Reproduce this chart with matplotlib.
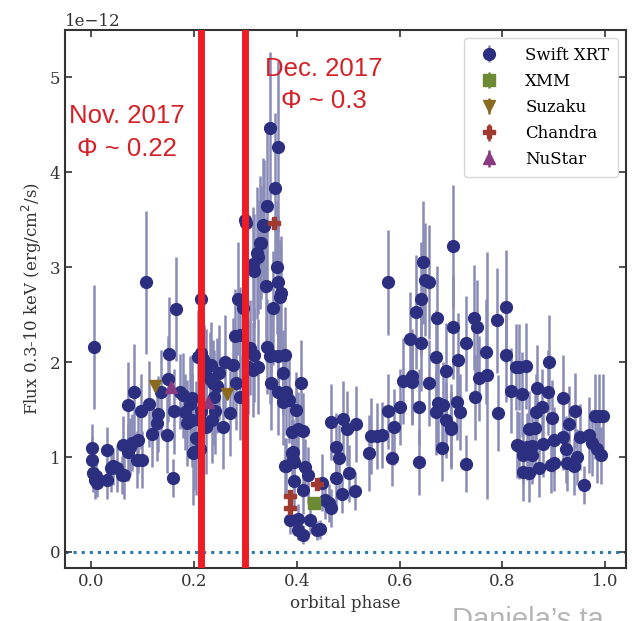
import matplotlib
matplotlib.use("Agg")
import matplotlib.pyplot as plt
import numpy as np

# Swift XRT light curve, flux in units of 1e-12 erg/cm2/s
swift_phase = [
    0.002, 0.002, 0.004, 0.006, 0.008, 0.010, 0.012, 0.031, 0.031, 0.040,
    0.043, 0.050, 0.060, 0.062, 0.064, 0.072, 0.072, 0.076, 0.080, 0.083,
    0.089, 0.092, 0.097, 0.100, 0.108, 0.114, 0.118, 0.128, 0.130, 0.137,
    0.148, 0.150, 0.152, 0.159, 0.161, 0.166, 0.173, 0.180, 0.183, 0.186,
    0.192, 0.196, 0.197, 0.198, 0.200, 0.204, 0.214, 0.208, 0.212, 0.212,
    0.215, 0.215, 0.218, 0.220, 0.223, 0.223, 0.231, 0.233, 0.235, 0.237,
    0.240, 0.241, 0.245, 0.250, 0.256, 0.260, 0.270, 0.276, 0.280, 0.283,
    0.286, 0.289, 0.290, 0.295, 0.299, 0.301, 0.305, 0.310, 0.315, 0.315,
    0.318, 0.318, 0.322, 0.324, 0.324, 0.328, 0.330, 0.334, 0.336, 0.340,
    0.342, 0.342, 0.348, 0.349, 0.351, 0.351, 0.354, 0.357, 0.361, 0.363,
    0.363, 0.363, 0.363, 0.367, 0.370, 0.373, 0.373, 0.377, 0.377, 0.380,
    0.385, 0.390, 0.390, 0.394, 0.398, 0.402, 0.408, 0.412, 0.388, 0.402,
    0.402, 0.412, 0.412, 0.416, 0.423, 0.425, 0.439, 0.445, 0.450, 0.455,
    0.462, 0.466, 0.466, 0.476, 0.476, 0.482, 0.489, 0.491, 0.497, 0.501,
    0.513, 0.516, 0.540, 0.544, 0.557, 0.565, 0.577, 0.577, 0.586, 0.590,
    0.600, 0.606, 0.620, 0.625, 0.625, 0.631, 0.637, 0.637, 0.641, 0.641,
    0.645, 0.649, 0.658, 0.658, 0.670, 0.670, 0.672, 0.674, 0.682, 0.684,
    0.690, 0.691, 0.700, 0.700, 0.703, 0.703, 0.711, 0.713, 0.717, 0.730,
    0.730, 0.744, 0.746, 0.750, 0.755, 0.767, 0.769, 0.790, 0.792, 0.806,
    0.806, 0.816, 0.827, 0.829, 0.833, 0.833, 0.838, 0.839, 0.839, 0.846,
    0.847, 0.852, 0.852, 0.858, 0.858, 0.864, 0.866, 0.868, 0.870, 0.877,
    0.878, 0.889, 0.891, 0.895, 0.897, 0.900, 0.901, 0.917, 0.917, 0.924,
    0.926, 0.930, 0.938, 0.940, 0.944, 0.950, 0.959, 0.969, 0.973, 0.979,
    0.984, 0.988, 0.992, 0.995, 0.380, 0.393, 0.393, 0.395,
]
swift_flux = [
    1.10, 0.97, 0.83, 2.16, 0.76, 0.80, 0.73, 1.07, 0.76, 0.88,
    0.90, 0.88, 0.81, 1.13, 0.81, 1.55, 1.05, 1.11, 1.15, 1.69,
    0.97, 1.18, 1.48, 0.97, 2.84, 1.56, 1.24, 1.36, 1.45, 1.68,
    1.23, 1.82, 2.09, 0.78, 1.48, 2.56, 1.69, 1.65, 1.47, 1.36,
    1.56, 1.62, 1.39, 1.04, 1.05, 1.20, 2.67, 2.05, 1.39, 1.08,
    2.10, 1.48, 2.03, 1.89, 1.85, 1.32, 1.82, 1.97, 1.39, 1.78,
    1.63, 1.48, 1.75, 1.89, 1.32, 2.00, 1.46, 1.97, 2.27, 1.78,
    2.67, 1.63, 2.29, 2.57, 3.50, 3.47, 1.95, 2.15, 1.92, 3.03,
    2.96, 2.08, 3.15, 1.95, 3.11, 3.26, 3.26, 3.45, 3.43, 2.80,
    3.64, 2.16, 2.06, 4.47, 1.78, 2.08, 2.57, 3.83, 3.00, 4.27,
    2.84, 2.06, 1.68, 2.69, 2.73, 1.58, 1.89, 2.08, 0.90, 1.68,
    1.60, 1.26, 1.04, 0.95, 1.50, 1.29, 1.78, 1.27, 0.34, 0.35,
    0.23, 0.18, 0.65, 0.89, 0.81, 0.34, 0.23, 0.24, 0.73, 0.55,
    0.52, 0.46, 1.37, 1.11, 0.78, 0.99, 0.61, 1.40, 1.30, 0.83,
    0.64, 1.35, 1.04, 1.22, 1.22, 1.23, 2.84, 1.48, 0.99, 1.32,
    1.53, 1.80, 2.24, 1.85, 1.79, 2.53, 1.53, 0.95, 2.67, 2.20,
    3.05, 2.87, 2.84, 1.78, 2.05, 1.47, 2.46, 1.57, 1.10, 1.55,
    1.39, 1.91, 1.32, 1.29, 3.22, 2.37, 1.58, 2.02, 1.47, 2.20,
    0.93, 2.47, 1.63, 2.37, 1.83, 2.11, 1.86, 2.44, 1.46, 2.58,
    2.08, 1.70, 1.95, 1.13, 1.95, 1.12, 1.66, 1.02, 0.84, 1.96,
    1.11, 1.30, 0.83, 1.12, 1.02, 1.31, 1.47, 1.73, 0.88, 1.53,
    1.14, 1.68, 2.00, 0.92, 1.41, 0.94, 1.18, 1.62, 1.21, 1.08,
    0.94, 1.35, 0.90, 1.49, 1.00, 1.21, 0.70, 1.23, 1.15, 1.43,
    1.08, 1.43, 1.02, 1.43, 0.90, 1.05, 0.97, 0.75,
]
swift_err = [
    0.25, 0.25, 0.20, 0.65, 0.20, 0.20, 0.15, 0.25, 0.20, 0.25,
    0.20, 0.25, 0.20, 0.30, 0.25, 0.45, 0.30, 0.30, 0.30, 0.50,
    0.30, 0.35, 0.40, 0.30, 0.75, 0.45, 0.35, 0.40, 0.40, 0.45,
    0.40, 0.45, 0.60, 0.20, 0.45, 0.55, 0.40, 0.45, 0.40, 0.45,
    0.50, 0.45, 0.50, 0.55, 0.40, 0.60, 0.70, 0.50, 0.50, 0.50,
    0.50, 0.50, 0.45, 0.50, 0.50, 0.50, 0.50, 0.45, 0.45, 0.45,
    0.50, 0.45, 0.50, 0.50, 0.45, 0.50, 0.45, 0.50, 0.50, 0.50,
    0.60, 0.45, 0.50, 0.55, 0.70, 0.70, 0.50, 0.50, 0.50, 0.60,
    0.60, 0.50, 0.70, 0.50, 0.60, 0.70, 0.60, 0.70, 0.70, 0.60,
    0.80, 0.50, 0.50, 0.80, 0.50, 0.50, 0.60, 0.80, 0.70, 0.90,
    0.70, 0.50, 0.45, 0.60, 0.60, 0.45, 0.45, 0.50, 0.30, 0.45,
    0.45, 0.40, 0.35, 0.30, 0.40, 0.40, 0.45, 0.40, 0.15, 0.15,
    0.10, 0.10, 0.25, 0.30, 0.30, 0.15, 0.10, 0.10, 0.30, 0.20,
    0.20, 0.20, 0.40, 0.35, 0.30, 0.35, 0.20, 0.40, 0.40, 0.30,
    0.20, 0.40, 0.40, 0.40, 0.35, 0.35, 0.55, 0.40, 0.30, 0.40,
    0.40, 0.45, 0.50, 0.50, 0.45, 0.60, 0.40, 0.35, 0.60, 0.50,
    0.65, 0.60, 0.60, 0.45, 0.50, 0.45, 0.55, 0.45, 0.35, 0.45,
    0.40, 0.50, 0.45, 0.40, 0.65, 0.55, 0.40, 0.50, 0.40, 0.50,
    0.30, 0.55, 0.45, 0.50, 0.45, 0.55, 1.30, 0.55, 0.40, 0.60,
    0.50, 0.45, 0.45, 0.35, 0.45, 0.35, 0.45, 0.30, 0.30, 0.45,
    0.35, 0.40, 0.30, 0.35, 0.30, 0.40, 0.40, 0.45, 0.30, 0.40,
    0.35, 0.45, 0.50, 0.30, 0.40, 0.30, 0.35, 0.45, 0.35, 0.35,
    0.30, 0.40, 0.30, 0.40, 0.30, 0.35, 0.20, 0.40, 0.35, 0.45,
    0.35, 0.45, 0.30, 0.45, 0.30, 0.35, 0.30, 0.30,
]

xmm_phase, xmm_flux, xmm_err = [0.433], [0.52], [0.06]
suzaku_phase, suzaku_flux, suzaku_err = [0.124, 0.264], [1.75, 1.66], [0.05, 0.05]
chandra_phase = [0.355, 0.388, 0.388, 0.439]
chandra_flux = [3.47, 0.59, 0.46, 0.72]
chandra_err = [0.05, 0.05, 0.05, 0.05]
nustar_phase, nustar_flux, nustar_err = [0.155, 0.227], [1.74, 1.58], [0.05, 0.05]

obs_phase = [0.215, 0.3]
obs_text = ["Nov. 2017\n\u03a6 ~ 0.22", "Dec. 2017\n\u03a6 ~ 0.3"]

scale = 1e-12

plt.rcParams['font.family'] = 'DejaVu Serif'
fig = plt.figure(figsize=(6.32, 6.21), dpi=100)
ax = fig.add_axes([0.103, 0.0853, 0.8875, 0.8664])

def plot_set(ph, fl, er, marker, col, ecol, label, ms):
    ax.errorbar(ph, np.array(fl) * scale, yerr=np.array(er) * scale,
                fmt=marker, color=col, ecolor=ecol, elinewidth=1.8,
                markersize=ms, capsize=0, label=label, zorder=3)

plot_set(swift_phase, swift_flux, swift_err, 'o', '#2c2f80', '#8a8cb8', 'Swift XRT', 8.5)
plot_set(xmm_phase, xmm_flux, xmm_err, 's', '#6b8a32', '#6b8a32', 'XMM', 8)
plot_set(suzaku_phase, suzaku_flux, suzaku_err, 'v', '#8a6a1c', '#8a6a1c', 'Suzaku', 8)
plot_set(chandra_phase, chandra_flux, chandra_err, 'P', '#a03a30', '#a03a30', 'Chandra', 8)
plot_set(nustar_phase, nustar_flux, nustar_err, '^', '#8a3a80', '#8a3a80', 'NuStar', 8)

ax.axhline(0, color='#2a7ab0', ls=':', lw=2.2, zorder=1)
for p in obs_phase:
    ax.axvline(p, color='#ee1c25', lw=5, zorder=5)

ax.text(0.07, 4.42e-12, obs_text[0], color='#d42027', fontsize=18.5,
        family='Liberation Sans', ha='center', va='center', linespacing=1.45)
ax.text(0.452, 4.92e-12, obs_text[1], color='#d42027', fontsize=18.5,
        family='Liberation Sans', ha='center', va='center', linespacing=1.45)

ax.set_xlim(-0.05, 1.04)
ax.set_ylim(-0.17e-12, 5.5e-12)
ax.set_xticks([0.0, 0.2, 0.4, 0.6, 0.8, 1.0])
ax.set_yticks(np.array([0, 1, 2, 3, 4, 5]) * scale)
ax.tick_params(direction='in', top=True, right=True, labelsize=12,
               length=5, width=1.2, colors='#333333')
for s in ax.spines.values():
    s.set_linewidth(1.5)
    s.set_color('#333333')
ax.yaxis.get_offset_text().set_fontsize(12)
ax.yaxis.get_offset_text().set_color('#333333')

ax.set_xlabel('orbital phase', fontsize=12, color='#333333')
ax.set_ylabel('Flux 0.3-10 keV (erg/cm$^2$/s)', fontsize=12, color='#333333')

leg = ax.legend(loc='upper right', fontsize=12, frameon=True, borderpad=0.5,
                labelspacing=0.55, handletextpad=1.2)
leg.get_frame().set_edgecolor('#cccccc')

fig.text(0.715, -0.012, "Daniela\u2019s ta", fontsize=21, color='#b5b5b5',
         family='Liberation Sans', ha='left', va='baseline')

fig.savefig('out.png', dpi=100)
